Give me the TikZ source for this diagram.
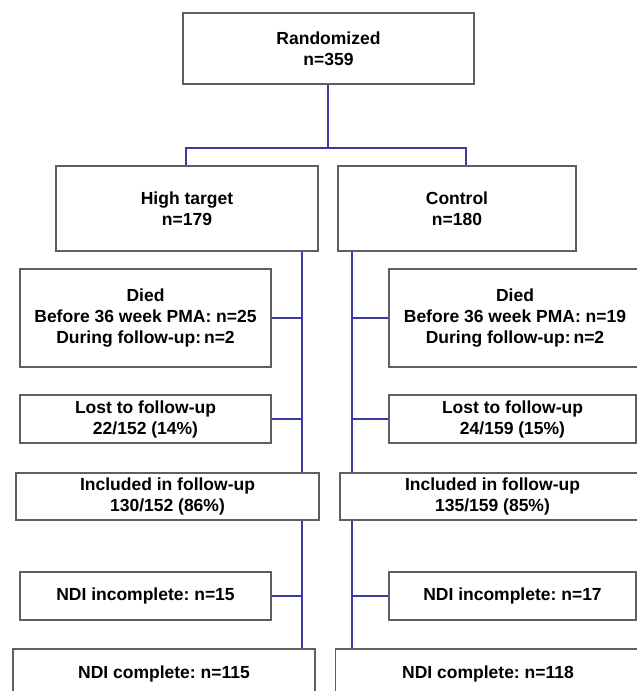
\documentclass[tikz,border=0pt]{standalone}
\usepackage{fontspec}
\setmainfont{Liberation Sans}
\frenchspacing
\definecolor{boxgray}{HTML}{5F5F5F}
\definecolor{linkblue}{HTML}{3A3AA0}
\begin{document}
\begin{tikzpicture}[x=1pt,y=-1pt,
  box/.style={draw=boxgray,line width=1.3pt,rectangle,inner sep=0pt,align=center,
    font=\bfseries\fontsize{17.5}{21}\selectfont},
  conn/.style={draw=linkblue,line width=1.8pt}]
\useasboundingbox (0,0) rectangle (637,691);
\begin{scope}
\clip (0,0) rectangle (637,691);
% top
\node[box,minimum width=291pt,minimum height=71pt] (rand) at (328.5,48.5) {Randomized\\n=359};
\node[box,minimum width=262pt,minimum height=85pt] (high) at (187,208.5) {High target\\n=179};
\node[box,minimum width=238pt,minimum height=85pt] (ctrl) at (457,208.5) {Control\\n=180};
% left column
\node[box,minimum width=251pt,minimum height=98pt] (diedL) at (145.5,318) {Died\\Before 36 week PMA: n=25\\During follow-up:\,n=2};
\node[box,minimum width=251pt,minimum height=48pt] (lostL) at (145.5,419) {Lost to follow-up\\22/152 (14\%)};
\node[box,minimum width=303pt,minimum height=47pt] (inclL) at (167.5,496.5) {Included in follow-up\\130/152 (86\%)};
\node[box,minimum width=251pt,minimum height=48pt] (ndiiL) at (145.5,596) {NDI incomplete: n=15};
\node[box,minimum width=302pt,minimum height=50pt] (ndicL) at (164,674) {NDI complete: n=115};
% right column
\node[box,minimum width=252pt,minimum height=98pt] (diedR) at (515,318) {Died\\Before 36 week PMA: n=19\\During follow-up:\,n=2};
\node[box,minimum width=247pt,minimum height=48pt] (lostR) at (512.5,419) {Lost to follow-up\\24/159 (15\%)};
\node[box,minimum width=305pt,minimum height=47pt] (inclR) at (492.5,496.5) {Included in follow-up\\135/159 (85\%)};
\node[box,minimum width=247pt,minimum height=48pt] (ndiiR) at (512.5,596) {NDI incomplete: n=17};
\node[box,minimum width=305pt,minimum height=50pt] (ndicR) at (488,674) {NDI complete: n=118};
\end{scope}
% connector helpers
\coordinate (split) at (328,148);
\coordinate (hx) at (186,0);
\coordinate (cx) at (466,0);
\coordinate (lt) at (302,0);
\coordinate (rt) at (352,0);
% randomization split
\draw[conn] (rand.south -| split) -- (split);
\draw[conn] (high.north -| hx) -- (split -| hx) -- (split -| cx) -- (ctrl.north -| cx);
% left trunk
\draw[conn] (high.south -| lt) -- (inclL.north -| lt);
\draw[conn] (inclL.south -| lt) -- (ndicL.north -| lt);
\draw[conn] (diedL.east) -- (diedL.east -| lt);
\draw[conn] (lostL.east) -- (lostL.east -| lt);
\draw[conn] (ndiiL.east) -- (ndiiL.east -| lt);
% right trunk
\draw[conn] (ctrl.south -| rt) -- (inclR.north -| rt);
\draw[conn] (inclR.south -| rt) -- (ndicR.north -| rt);
\draw[conn] (diedR.west -| rt) -- (diedR.west);
\draw[conn] (lostR.west -| rt) -- (lostR.west);
\draw[conn] (ndiiR.west -| rt) -- (ndiiR.west);
\end{tikzpicture}
\end{document}
